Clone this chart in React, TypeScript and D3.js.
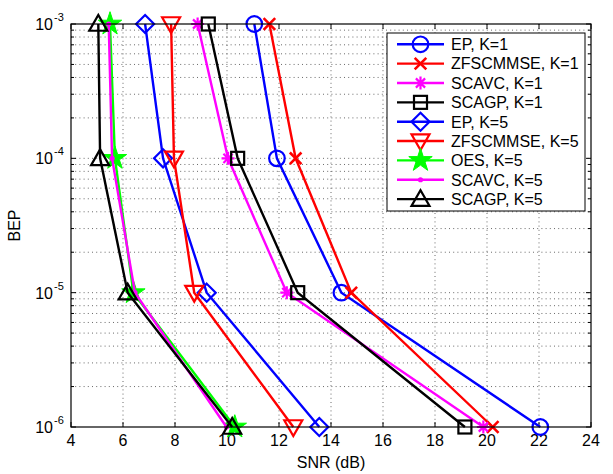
import React from "react";
import * as d3 from "d3";

const xTicks = [4, 6, 8, 10, 12, 14, 16, 18, 20, 22, 24];
const yTickExps = [-3, -4, -5, -6];
const bepLevels = [1e-3, 1e-4, 1e-5, 1e-6];

const epK1 = [11.05, 11.92, 14.4, 22.05];
const zfK1 = [11.63, 12.64, 14.78, 20.22];
const scavcK1 = [8.87, 10.04, 12.3, 19.86];
const scagpK1 = [9.28, 10.41, 12.72, 19.15];
const epK5 = [6.85, 7.54, 9.22, 13.55];
const zfK5 = [7.85, 7.96, 8.74, 12.55];
const oesK5 = [5.5, 5.69, 6.4, 10.3];
const scavcK5 = [5.45, 5.58, 6.46, 9.98];
const scagpK5 = [5.05, 5.12, 6.18, 10.2];

const seriesNames = [
  "EP, K=1",
  "ZFSCMMSE, K=1",
  "SCAVC, K=1",
  "SCAGP, K=1",
  "EP, K=5",
  "ZFSCMMSE, K=5",
  "OES, K=5",
  "SCAVC, K=5",
  "SCAGP, K=5",
];
const seriesValues = [epK1, zfK1, scavcK1, scagpK1, epK5, zfK5, oesK5, scavcK5, scagpK5];
const seriesColors = ["#0000ff", "#ff0000", "#ff00ff", "#000000", "#0000ff", "#ff0000", "#00ff00", "#ff00ff", "#000000"];
const seriesMarkers = ["circle", "x", "asterisk", "square", "diamond", "tdown", "star", "dot", "tup"];

const W = 613;
const H = 474;
const L = 71, R = 591, T = 24, B = 427;

const x = d3.scaleLinear().domain([4, 24]).range([L, R]);
const y = d3.scaleLog().domain([1e-6, 1e-3]).range([B, T]);

function Marker({ type, cx, cy, color }: { type: string; cx: number; cy: number; color: string }) {
  const sw = 2.2;
  switch (type) {
    case "circle":
      return <circle cx={cx} cy={cy} r={7.8} fill="none" stroke={color} strokeWidth={sw} />;
    case "x": {
      const s = 5.8;
      return (
        <path d={`M${cx - s},${cy - s}L${cx + s},${cy + s}M${cx - s},${cy + s}L${cx + s},${cy - s}`} stroke={color} strokeWidth={sw + 0.4} fill="none" />
      );
    }
    case "asterisk": {
      const s = 6.5, d = 4.6;
      return (
        <path
          d={`M${cx - s},${cy}L${cx + s},${cy}M${cx},${cy - s}L${cx},${cy + s}M${cx - d},${cy - d}L${cx + d},${cy + d}M${cx - d},${cy + d}L${cx + d},${cy - d}`}
          stroke={color}
          strokeWidth={sw}
          fill="none"
        />
      );
    }
    case "square": {
      const s = 6.5;
      return <rect x={cx - s} y={cy - s} width={2 * s} height={2 * s} fill="none" stroke={color} strokeWidth={sw} />;
    }
    case "diamond": {
      const s = 9;
      return <path d={`M${cx},${cy - s}L${cx + s},${cy}L${cx},${cy + s}L${cx - s},${cy}Z`} fill="none" stroke={color} strokeWidth={sw} />;
    }
    case "tdown": {
      const s = 9;
      return <path d={`M${cx - s},${cy - s * 0.75}L${cx + s},${cy - s * 0.75}L${cx},${cy + s}Z`} fill="none" stroke={color} strokeWidth={sw} />;
    }
    case "tup": {
      const s = 9;
      return <path d={`M${cx - s},${cy + s * 0.75}L${cx + s},${cy + s * 0.75}L${cx},${cy - s}Z`} fill="none" stroke={color} strokeWidth={sw} />;
    }
    case "star": {
      const sym = d3.symbol().type(d3.symbolStar).size(170)();
      return <path d={sym || ""} transform={`translate(${cx},${cy})`} fill={color} stroke={color} strokeWidth={1} />;
    }
    case "dot":
      return <circle cx={cx} cy={cy} r={2.6} fill={color} stroke="none" />;
    default:
      return null;
  }
}

export default function App() {
  const minorVals: number[] = [];
  for (let e = -6; e < -3; e++) {
    for (let m = 2; m <= 9; m++) minorVals.push(m * Math.pow(10, e));
  }
  const majorVals = yTickExps.map((e) => Math.pow(10, e));
  const line = d3
    .line<[number, number]>()
    .x((d) => x(d[0]))
    .y((d) => y(d[1]));

  const font = "'Liberation Sans', Arial, Helvetica, sans-serif";
  const legendX = 387, legendY = 33, legendW = 198, legendH = 178;
  const rowH = 19.35;

  return (
    <svg width={W} height={H} style={{ position: "absolute", left: 0, top: 0, background: "#fff" }} fontFamily={font}>
      <rect x={0} y={0} width={W} height={H} fill="#fff" />
      {/* grid */}
      <g stroke="#444" strokeWidth={0.8} strokeDasharray="1,3.2">
        {xTicks.slice(1, -1).map((t) => (
          <line key={"gx" + t} x1={x(t)} x2={x(t)} y1={T} y2={B} />
        ))}
        {minorVals.concat(majorVals.slice(1, 3)).map((v, i) => (
          <line key={"gy" + i} x1={L} x2={R} y1={y(v)} y2={y(v)} />
        ))}
      </g>
      {/* ticks */}
      <g stroke="#000" strokeWidth={1}>
        {xTicks.map((t) => (
          <g key={"tx" + t}>
            <line x1={x(t)} x2={x(t)} y1={B} y2={B - 5} />
            <line x1={x(t)} x2={x(t)} y1={T} y2={T + 5} />
          </g>
        ))}
        {majorVals.map((v, i) => (
          <g key={"ty" + i}>
            <line x1={L} x2={L + 5} y1={y(v)} y2={y(v)} />
            <line x1={R} x2={R - 5} y1={y(v)} y2={y(v)} />
          </g>
        ))}
        {minorVals.map((v, i) => (
          <g key={"tmy" + i}>
            <line x1={L} x2={L + 3} y1={y(v)} y2={y(v)} />
            <line x1={R} x2={R - 3} y1={y(v)} y2={y(v)} />
          </g>
        ))}
      </g>
      {/* tick labels */}
      <g fontSize={16} fill="#000">
        {xTicks.map((t) => (
          <text key={"lx" + t} x={x(t)} y={B + 19} textAnchor="middle">
            {t}
          </text>
        ))}
        {yTickExps.map((e) => (
          <g key={"ly" + e}>
            <text x={53} y={y(Math.pow(10, e)) + 6} textAnchor="end">
              10
            </text>
            <text x={54} y={y(Math.pow(10, e)) - 3} fontSize={11}>
              {"-" + Math.abs(e)}
            </text>
          </g>
        ))}
      </g>
      <text x={(L + R) / 2} y={468} textAnchor="middle" fontSize={16}>
        SNR (dB)
      </text>
      <text transform={`translate(20,${(T + B) / 2}) rotate(-90)`} textAnchor="middle" fontSize={16}>
        BEP
      </text>
      {/* series */}
      {seriesValues.map((vals, i) => {
        const pts: [number, number][] = vals.map((v, j) => [v, bepLevels[j]]);
        return (
          <g key={"s" + i}>
            <path d={line(pts) || ""} fill="none" stroke={seriesColors[i]} strokeWidth={2.4} />
            {pts.map((p, j) => (
              <Marker key={j} type={seriesMarkers[i]} cx={x(p[0])} cy={y(p[1])} color={seriesColors[i]} />
            ))}
          </g>
        );
      })}
      {/* axes box */}
      <rect x={L} y={T} width={R - L} height={B - T} fill="none" stroke="#000" strokeWidth={1.2} />
      {/* legend */}
      <g>
        <rect x={legendX} y={legendY} width={legendW} height={legendH} fill="#fff" stroke="#000" strokeWidth={1} />
        {seriesNames.map((n, i) => {
          const cy = legendY + 11.3 + i * rowH;
          return (
            <g key={"lg" + i}>
              <line x1={397} x2={444} y1={cy} y2={cy} stroke={seriesColors[i]} strokeWidth={2.4} />
              <Marker type={seriesMarkers[i]} cx={420.5} cy={cy} color={seriesColors[i]} />
              <text x={451} y={cy + 5.8} fontSize={16}>
                {n}
              </text>
            </g>
          );
        })}
      </g>
    </svg>
  );
}
